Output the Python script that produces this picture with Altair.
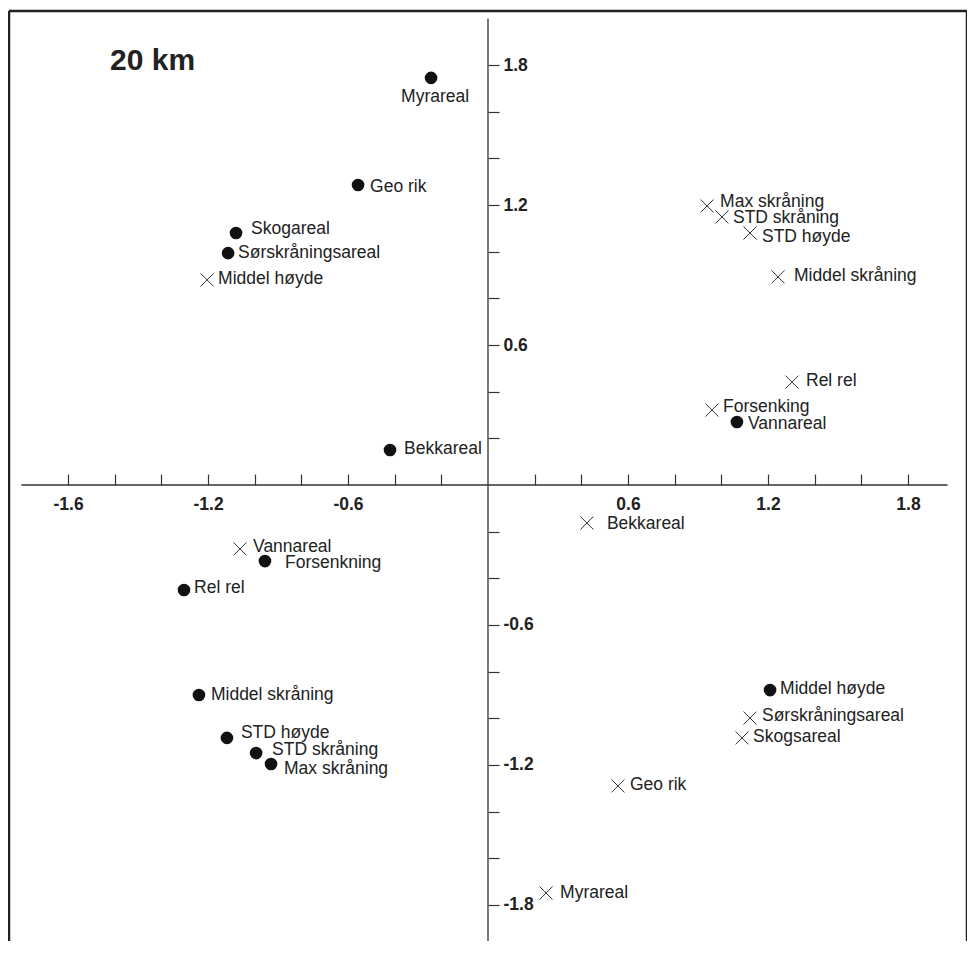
import altair as alt
import pandas as pd

# ---- data ----
circle_names = ["Myrareal", "Geo rik", "Skogareal", "Sørskråningsareal", "Bekkareal",
                "Vannareal", "Forsenkning", "Rel rel", "Middel skråning", "STD høyde",
                "STD skråning", "Max skråning", "Middel høyde"]
circle_x = [-0.244, -0.557, -1.080, -1.114, -0.420, 1.067, -0.956, -1.303, -1.239,
            -1.119, -0.994, -0.930, 1.209]
circle_y = [1.745, 1.286, 1.080, 0.994, 0.150, 0.270, -0.326, -0.450, -0.900,
            -1.084, -1.149, -1.196, -0.879]

cross_names = ["Middel høyde", "Max skråning", "STD skråning", "STD høyde", "Middel skråning",
               "Rel rel", "Forsenking", "Bekkareal", "Vannareal", "Sørskråningsareal",
               "Skogsareal", "Geo rik", "Myrareal"]
cross_x = [-1.204, 0.939, 1.003, 1.123, 1.243, 1.303, 0.960, 0.424, -1.063, 1.123,
           1.089, 0.557, 0.249]
cross_y = [0.879, 1.196, 1.149, 1.080, 0.892, 0.441, 0.321, -0.163, -0.274, -0.999,
           -1.084, -1.290, -1.749]

x_ticks = [-1.8, -1.6, -1.4, -1.2, -1.0, -0.8, -0.6, -0.4, -0.2,
           0.2, 0.4, 0.6, 0.8, 1.0, 1.2, 1.4, 1.6, 1.8]
y_ticks = [-1.8, -1.6, -1.4, -1.2, -1.0, -0.8, -0.6, -0.4, -0.2,
           0.2, 0.4, 0.6, 0.8, 1.0, 1.2, 1.4, 1.6, 1.8]

# ---- layout (label nudges in pixels, scale geometry) ----
circle_dx = [-30, 12, 15, 10, 14, 11, 20, 10, 12, 14, 16, 13, 10]
circle_dy = [19, 2, -4, 0, -1, 2, 2, -2, 0, -5, -3, 5, -1]
cross_dx = [11, 13, 11, 12, 16, 14, 11, 20, 13, 12, 11, 12, 14]
cross_dy = [-1, -4, 1, 4, -1, -1, -3, 1, -2, -2, -1, -1, 0]

W, H = 958, 930
PX = 233.3
X0, Y0 = 479, 474          # pixel position of the origin inside the plot
XMIN, XMAX = -X0 / PX, (W - X0) / PX
YMAX, YMIN = Y0 / PX, (Y0 - H) / PX

FONT = "Liberation Sans"
DARK = "#222222"

circles = pd.DataFrame({"x": circle_x, "y": circle_y, "name": circle_names,
                        "dx": circle_dx, "dy": circle_dy})
crosses = pd.DataFrame({"x": cross_x, "y": cross_y, "name": cross_names,
                        "dx": cross_dx, "dy": cross_dy})

shown = "(abs(datum.value) == 0.6 || abs(datum.value) == 1.2 || abs(datum.value) == 1.8)"
num = "(datum.value < 0 ? '-' : '') + format(abs(datum.value), '.1f')"
x_label_expr = f"datum.value == -1.8 ? '-1.6' : ({shown} ? {num} : '')"
y_label_expr = f"{shown} ? {num} : ''"

xaxis = alt.Axis(orient="top", offset=-Y0, values=x_ticks, domain=False, grid=False,
                 ticks=True, tickSize=11, tickColor="#333333", tickWidth=1.2,
                 labelExpr=x_label_expr, labelFont=FONT, labelFontWeight="bold",
                 labelFontSize=17.5, labelColor=DARK, labelBaseline="top",
                 labelPadding=-21, labelFlush=False, labelOverlap=False, title=None)
yaxis = alt.Axis(orient="right", offset=-(W - X0), values=y_ticks, domain=False, grid=False,
                 ticks=True, tickSize=11, tickColor="#333333", tickWidth=1.2,
                 labelExpr=y_label_expr, labelFont=FONT, labelFontWeight="bold",
                 labelFontSize=17.5, labelColor=DARK, labelPadding=4, labelFlush=False,
                 labelOverlap=False, title=None)

xs = alt.Scale(domain=[XMIN, XMAX], nice=False, zero=False)
ys = alt.Scale(domain=[YMIN, YMAX], nice=False, zero=False)
X = alt.X("x:Q", scale=xs, axis=xaxis)
Y = alt.Y("y:Q", scale=ys, axis=yaxis)

# axis lines through the origin
xline = alt.Chart(pd.DataFrame({"x": [-2.0], "x2": [1.97], "y": [0.0]})).mark_rule(
    color="#333333", strokeWidth=1.3).encode(x=X, x2="x2:Q", y=Y)
yline = alt.Chart(pd.DataFrame({"x": [0.0], "y": [2.0], "y2": [YMIN]})).mark_rule(
    color="#333333", strokeWidth=1.3).encode(x=X, y=Y, y2="y2:Q")

# frame (left, right, top)
frame_v = alt.Chart(pd.DataFrame({"x": [XMIN, XMAX], "y": [YMAX, YMAX], "y2": [YMIN, YMIN]})).mark_rule(
    color=DARK, strokeWidth=2.5).encode(x=X, y=Y, y2="y2:Q")
frame_h = alt.Chart(pd.DataFrame({"x": [XMIN], "x2": [XMAX], "y": [YMAX]})).mark_rule(
    color=DARK, strokeWidth=2.5).encode(x=X, x2="x2:Q", y=Y)

dots = alt.Chart(circles).mark_point(shape="circle", filled=True, size=160,
                                     color="#111111", opacity=1).encode(x=X, y=Y)
xmarks = alt.Chart(crosses).mark_point(shape="M-1,-1L1,1M-1,1L1,-1", filled=False, size=169,
                                       color="#333333", strokeWidth=1, opacity=1).encode(x=X, y=Y)

text_props = dict(align="left", baseline="middle", font=FONT, fontSize=17.5, color=DARK)
LX = alt.X("lx:Q", scale=xs, axis=xaxis)
LY = alt.Y("ly:Q", scale=ys, axis=yaxis)
dot_labels = alt.Chart(circles).transform_calculate(
    lx=f"datum.x + datum.dx / {PX}", ly=f"datum.y - datum.dy / {PX}"
).mark_text(**text_props).encode(x=LX, y=LY, text="name:N")
cross_labels = alt.Chart(crosses).transform_calculate(
    lx=f"datum.x + datum.dx / {PX}", ly=f"datum.y - datum.dy / {PX}"
).mark_text(**text_props).encode(x=LX, y=LY, text="name:N")

chart = alt.layer(frame_v, frame_h, xline, yline, dots, xmarks, dot_labels, cross_labels).properties(
    width=W, height=H,
    autosize=alt.AutoSizeParams(type="none"),
    padding={"left": 1, "top": 3, "right": 0, "bottom": 0},
    title=alt.TitleParams("20 km", anchor="start", frame="group", orient="top",
                          baseline="alphabetic", offset=0, dx=101, dy=90,
                          fontSize=30, fontWeight="bold", font=FONT, color=DARK),
).configure_view(stroke=None)

chart.save("out.html", embed_options={"renderer": "svg", "actions": False})
